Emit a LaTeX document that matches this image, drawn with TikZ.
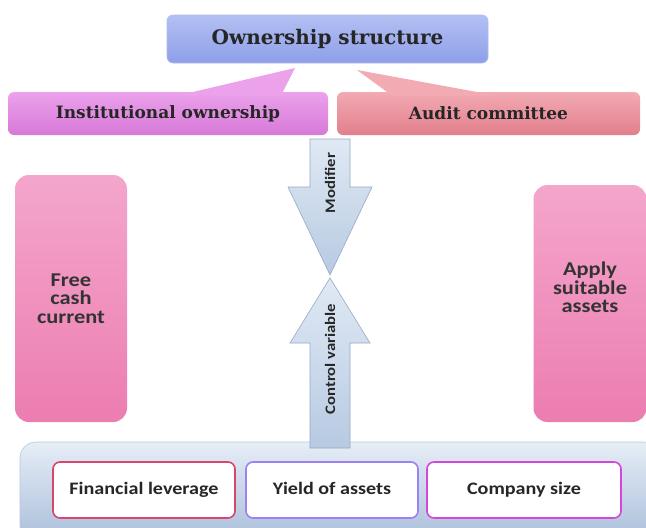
\documentclass[tikz,border=0pt]{standalone}
\usepackage{fontspec}
\newfontfamily\slabfont{DejaVu Serif}
\newfontfamily\calfont[FakeStretch=1.15]{Carlito}
\begin{document}
\begin{tikzpicture}[x=1pt,y=-1pt,
  hdr/.style={rounded corners=6pt, draw=#1!70!white, line width=0.6pt, font=\slabfont\bfseries\fontsize{17}{19}\selectfont, text=black!85},
  sidebox/.style={rounded corners=14pt, top color=sidetop, bottom color=sidebot, draw=none, align=center, font=\calfont\bfseries\fontsize{19.5}{18.5}\selectfont, text=black!80},
  inbox/.style={rounded corners=7pt, fill=white, line width=1.6pt, font=\calfont\bfseries\fontsize{17.5}{19}\selectfont, text=black!85, minimum height=56pt},
  arrowshape/.style={top color=arrtop, bottom color=arrbot, draw=arrline, line width=0.6pt},
  arrlabel/.style={font=\calfont\bfseries\fontsize{14.5}{16}\selectfont, text=black!85, rotate=90}
]
\definecolor{owntop}{HTML}{B3C0F4}
\definecolor{ownbot}{HTML}{8E9FE8}
\definecolor{insttop}{HTML}{EBA2EB}
\definecolor{instbot}{HTML}{D778D8}
\definecolor{audtop}{HTML}{F2AAB3}
\definecolor{audbot}{HTML}{E27F8C}
\definecolor{sidetop}{HTML}{F4A6CC}
\definecolor{sidebot}{HTML}{EC7DB0}
\definecolor{arrtop}{HTML}{E0E9F4}
\definecolor{arrbot}{HTML}{B7CAE2}
\definecolor{arrline}{HTML}{97A9C4}
\definecolor{bottop}{HTML}{E6EDF6}
\definecolor{botbot}{HTML}{A9BEDA}
\definecolor{botline}{HTML}{B9C9DE}
\definecolor{fincol}{HTML}{D8466E}
\definecolor{yieldcol}{HTML}{9A82F2}
\definecolor{compcol}{HTML}{D646D8}
\useasboundingbox (0,0) rectangle (646,528);
\fill[white] (0,0) rectangle (646,528);

% top node
\node[hdr=ownbot, top color=owntop, bottom color=ownbot, minimum width=321pt, minimum height=48pt, font=\slabfont\bfseries\fontsize{20}{22}\selectfont] (own) at (327.5,39) {Ownership structure};

\node[hdr=instbot, top color=insttop, bottom color=instbot, minimum width=320pt, minimum height=43pt, draw=none] (inst) at (168,113.5) {Institutional ownership};
\node[hdr=audbot, top color=audtop, bottom color=audbot, minimum width=303pt, minimum height=43pt, draw=none] (aud) at (488.5,113.5) {Audit committee};

% callout tails
\coordinate (insttip) at (295,68);
\coordinate (audtip) at (357,70);
\fill[insttop] (178,95.5) -- (insttip) -- (281,95.5) -- cycle;
\fill[audtop] (392,95.5) -- (audtip) -- (496,95.5) -- cycle;

% side boxes
\node[sidebox, minimum width=112pt, minimum height=247pt] (free) at (71,298.5) {Free\\cash\\current};
\node[sidebox, minimum width=113pt, minimum height=237pt] (apply) at (590,303.5) {Apply\\suitable\\assets\\[14pt]\mbox{}};

% bottom container
\node[rounded corners=16pt, top color=bottop, bottom color=botbot, draw=botline, line width=0.6pt, minimum width=640pt, minimum height=100pt] (ctrl) at (340,492) {};
\node[inbox, draw=fincol, minimum width=182pt] (fin) at (144,490) {\raisebox{3pt}{Financial leverage}};
\node[inbox, draw=yieldcol, minimum width=172pt] (yield) at (332,490) {\raisebox{3pt}{Yield of assets}};
\node[inbox, draw=compcol, minimum width=194pt] (comp) at (524,490) {\raisebox{3pt}{Company size}};

% arrows
\coordinate (dtip) at (330,275);
\coordinate (utip) at (330,278);
\path[arrowshape] (310,139) -- (350,139) -- (350,187) -- (372,187) -- (dtip) -- (288,187) -- (310,187) -- cycle;
\node[arrlabel] (modl) at (330,183) {Modifier};
\path[arrowshape] (310,448) -- (310,343) -- (290,343) -- (utip) -- (370,343) -- (350,343) -- (350,448) -- cycle;
\node[arrlabel] (ctl) at (330,359) {Control variable};
\end{tikzpicture}
\end{document}
